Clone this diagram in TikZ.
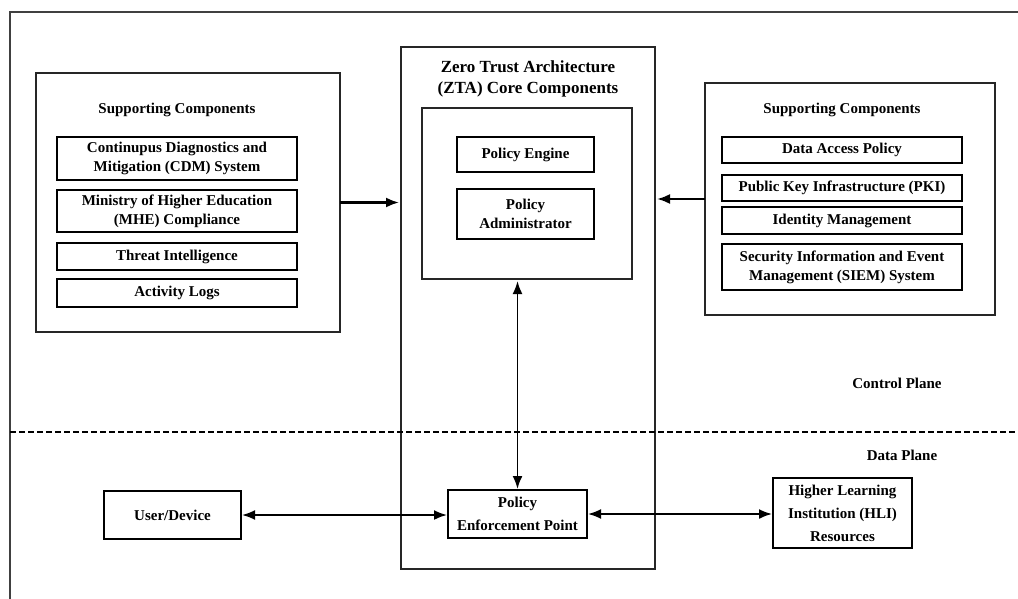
\documentclass[tikz,border=0pt]{standalone}
\usepackage{fontspec}
\setmainfont{Liberation Serif}
\usetikzlibrary{arrows.meta}
\begin{document}
\begin{tikzpicture}[x=1pt,y=-1pt,
  outerbox/.style={draw=black!85,line width=1.4pt,inner sep=0pt,outer sep=0pt},
  compbox/.style={draw=black,line width=1.7pt,inner sep=0pt,outer sep=0pt,align=center,
    font=\fontsize{15}{19}\selectfont\bfseries},
  lowbox/.style={draw=black,line width=1.7pt,inner sep=0pt,outer sep=0pt,align=center,
    font=\fontsize{15}{23}\selectfont\bfseries},
  plainlabel/.style={inner sep=0pt,align=center,font=\fontsize{15}{19}\selectfont\bfseries},
  titlelabel/.style={inner sep=0pt,align=center,font=\fontsize{17}{21}\selectfont\bfseries},
  arr/.style={line width=2.2pt,-{Latex[length=13pt,width=10pt]}},
  darr/.style={line width=1.8pt,{Latex[length=13pt,width=10pt]}-{Latex[length=13pt,width=10pt]}},
  frameline/.style={draw=black!75,line width=2pt}]
\useasboundingbox (0,0) rectangle (1018,599);
% outer frame (cut off at right and bottom)
\coordinate (fbl) at (10,599);
\coordinate (ftl) at (10,12);
\coordinate (ftr) at (1018,12);
\draw[frameline] (fbl) -- (ftl) -- (ftr);
% left supporting components
\node[outerbox,minimum width=304pt,minimum height=259pt] (lsup) at (188,202.5) {};
\node[plainlabel] (lsupt) at (177,110) {Supporting Components};
\node[compbox,minimum width=240pt,minimum height=43pt] (cdm) at (177,158.5) {Continupus Diagnostics and\\Mitigation (CDM) System};
\node[compbox,minimum width=240pt,minimum height=42pt] (mhe) at (177,211) {Ministry of Higher Education\\(MHE) Compliance};
\node[compbox,minimum width=240pt,minimum height=27pt] (thr) at (177,256.5) {Threat Intelligence};
\node[compbox,minimum width=240pt,minimum height=28pt] (act) at (177,293) {Activity Logs};
% ZTA core
\node[outerbox,minimum width=254pt,minimum height=522pt] (zta) at (528,308) {};
\node[titlelabel] (ztat) at (528,78.5) {Zero Trust Architecture\\(ZTA) Core Components};
\node[outerbox,line width=1.7pt,minimum width=210pt,minimum height=171pt] (inner) at (527,193.5) {};
\node[compbox,minimum width=137pt,minimum height=35pt] (pe) at (525.5,154.5) {Policy Engine};
\node[compbox,minimum width=137pt,minimum height=50pt] (pa) at (525.5,214) {Policy\\Administrator};
% right supporting components
\node[outerbox,minimum width=290pt,minimum height=232pt] (rsup) at (850,199) {};
\node[plainlabel] (rsupt) at (842,110) {Supporting Components};
\node[compbox,minimum width=240pt,minimum height=26pt] (dap) at (842,150) {Data Access Policy};
\node[compbox,minimum width=240pt,minimum height=26pt] (pki) at (842,188) {Public Key Infrastructure (PKI)};
\node[compbox,minimum width=240pt,minimum height=27pt] (idm) at (842,220.5) {Identity Management};
\node[compbox,minimum width=240pt,minimum height=46pt] (siem) at (842,267) {Security Information and Event\\Management (SIEM) System};
% planes
\node[plainlabel] (cp) at (897,383) {Control Plane};
\node[plainlabel] (dp) at (902,455) {Data Plane};
\coordinate (dl) at (10,432);
\coordinate (dr) at (1018,432);
\draw[line width=2.4pt,dash pattern=on 6pt off 3pt] (dl) -- (dr);
% data plane nodes
\node[lowbox,minimum width=137pt,minimum height=48pt] (ud) at (172.5,515) {User/Device};
\node[lowbox,minimum width=139pt,minimum height=48pt] (pep) at (517.5,514) {Policy\\Enforcement Point};
\node[lowbox,minimum width=139pt,minimum height=70pt] (hli) at (842.5,513) {Higher Learning\\Institution (HLI)\\Resources};
% connectors
\draw[arr,shorten >=2pt] (lsup.east) -- (lsup.east -| zta.west);
\draw[arr,shorten >=2pt] (rsup.west) -- (rsup.west -| zta.east);
\draw[darr,shorten <=1pt,shorten >=2pt] (pep.north) -- (pep.north |- inner.south);
\draw[darr,shorten <=1pt,shorten >=1pt] (ud.east) -- (ud.east -| pep.west);
\draw[darr,shorten <=1pt,shorten >=1pt] (pep.east) -- (pep.east -| hli.west);
\end{tikzpicture}
\end{document}
